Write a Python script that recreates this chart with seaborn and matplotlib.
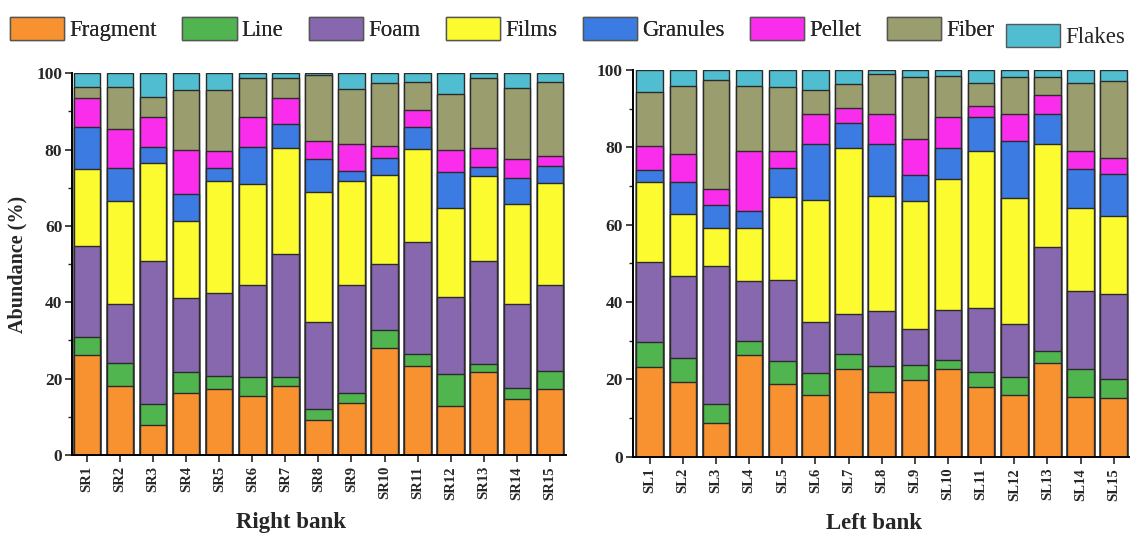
import matplotlib
matplotlib.use("Agg")
import matplotlib.pyplot as plt
from matplotlib.patches import Patch
from matplotlib.ticker import MultipleLocator
import numpy as np
import pandas as pd
import seaborn as sns

# Microplastic shape composition (%) at each sampling site
types = ["Fragment", "Line", "Foam", "Films", "Granules", "Pellet", "Fiber", "Flakes"]
colors = ["#F8912F", "#51B54F", "#8767AD", "#FBFB2F", "#3C7BE1", "#F92DEB", "#9A9D6D", "#50BED0"]

right_sites = [f"SR{i}" for i in range(1, 16)]
left_sites = [f"SL{i}" for i in range(1, 16)]

# Right bank (SR1 ... SR15)
sr_fragment = [26.2, 18.1, 7.8, 16.2, 17.4, 15.4, 18.1, 9.2, 13.5, 27.9, 23.3, 12.9, 21.6, 14.6, 17.2]
sr_line     = [4.8, 5.9, 5.6, 5.5, 3.3, 4.9, 2.4, 2.8, 2.7, 4.9, 3.2, 8.3, 2.1, 2.9, 4.8]
sr_foam     = [23.6, 15.5, 37.4, 19.4, 21.7, 24.2, 32.2, 22.8, 28.3, 17.2, 29.2, 20.3, 27.0, 22.1, 22.5]
sr_films    = [20.3, 26.9, 25.6, 20.3, 29.3, 26.6, 27.6, 34.2, 27.3, 23.4, 24.4, 23.3, 22.4, 26.1, 26.7]
sr_granules = [11.0, 8.7, 4.2, 6.9, 3.4, 9.5, 6.3, 8.5, 2.6, 4.3, 5.7, 9.3, 2.4, 6.8, 4.5]
sr_pellet   = [7.7, 10.2, 7.9, 11.6, 4.6, 7.9, 6.8, 4.8, 7.0, 3.1, 4.6, 5.8, 5.0, 5.0, 2.6]
sr_fiber    = [2.9, 11.2, 5.2, 15.7, 15.9, 10.2, 5.3, 17.1, 14.4, 16.6, 7.2, 14.7, 18.2, 18.7, 19.3]
sr_flakes   = [3.5, 3.5, 6.3, 4.4, 4.4, 1.3, 1.3, 0.6, 4.2, 2.6, 2.4, 5.4, 1.3, 3.8, 2.4]

# Left bank (SL1 ... SL15)
sl_fragment = [23.3, 19.4, 8.6, 26.2, 18.7, 15.9, 22.6, 16.6, 19.7, 22.7, 17.9, 15.9, 24.1, 15.5, 15.2]
sl_line     = [6.3, 6.0, 4.9, 3.7, 6.1, 5.8, 3.9, 6.9, 4.0, 2.3, 3.9, 4.8, 3.1, 7.3, 5.0]
sl_foam     = [20.8, 21.4, 35.9, 15.4, 20.9, 13.0, 10.4, 14.2, 9.3, 12.8, 16.7, 13.7, 26.9, 20.1, 21.8]
sl_films    = [20.7, 16.0, 9.8, 13.9, 21.5, 31.6, 42.8, 29.6, 33.1, 34.0, 40.6, 32.6, 26.7, 21.5, 20.2]
sl_granules = [3.0, 8.3, 5.9, 4.3, 7.4, 14.5, 6.5, 13.5, 6.7, 7.9, 8.7, 14.6, 7.7, 10.0, 11.0]
sl_pellet   = [6.2, 7.2, 4.1, 15.6, 4.4, 7.7, 4.0, 7.7, 9.3, 8.2, 3.0, 7.1, 4.9, 4.7, 4.0]
sl_fiber    = [13.9, 17.5, 28.1, 16.7, 16.6, 6.3, 6.1, 10.4, 16.0, 10.5, 5.8, 9.5, 4.8, 17.5, 20.0]
sl_flakes   = [5.8, 4.2, 2.7, 4.2, 4.4, 5.2, 3.7, 1.1, 1.9, 1.6, 3.4, 1.8, 1.8, 3.4, 2.8]

right_bank = pd.DataFrame(
    {"Fragment": sr_fragment, "Line": sr_line, "Foam": sr_foam, "Films": sr_films,
     "Granules": sr_granules, "Pellet": sr_pellet, "Fiber": sr_fiber, "Flakes": sr_flakes},
    index=right_sites)
left_bank = pd.DataFrame(
    {"Fragment": sl_fragment, "Line": sl_line, "Foam": sl_foam, "Films": sl_films,
     "Granules": sl_granules, "Pellet": sl_pellet, "Fiber": sl_fiber, "Flakes": sl_flakes},
    index=left_sites)

sns.set_theme(style="ticks")
plt.rcParams["font.family"] = ["Liberation Serif", "DejaVu Serif"]
plt.rcParams["axes.linewidth"] = 1.4
plt.rcParams["xtick.major.width"] = 1.2
plt.rcParams["ytick.major.width"] = 1.2
plt.rcParams["ytick.minor.width"] = 1.0

fig = plt.figure(figsize=(11.32, 5.34), dpi=100)
ax_r = fig.add_axes([0.0636, 0.148, 0.4364, 0.715])
ax_l = fig.add_axes([0.559, 0.1448, 0.4383, 0.7242])


def stacked(ax, frame, xlabel, label_x):
    cum = frame.cumsum(axis=1)
    # draw cumulative bars from the top layer down so each lower layer sits in front
    for name, col in zip(types[::-1], colors[::-1]):
        sns.barplot(x=frame.index, y=cum[name].values, color=col, width=0.8,
                    edgecolor="#2b2b2b", linewidth=1.0, saturation=1,
                    errorbar=None, ax=ax)
    ax.set_ylim(0, 100)
    ax.yaxis.set_major_locator(MultipleLocator(20))
    ax.yaxis.set_minor_locator(MultipleLocator(10))
    ax.tick_params(axis="y", which="major", length=5, direction="out", labelsize=12.5, pad=2)
    ax.tick_params(axis="y", which="minor", length=3, direction="out")
    ax.tick_params(axis="x", length=5, direction="out", labelsize=10.5, pad=3)
    for lab in ax.get_xticklabels():
        lab.set_rotation(90)
        lab.set_fontweight("bold")
    for lab in ax.get_yticklabels():
        lab.set_fontweight("bold")
    sns.despine(ax=ax)
    for s in ("left", "bottom"):
        ax.spines[s].set_color("black")
    ax.set_xlabel(xlabel, fontsize=16.5, fontweight="bold", labelpad=9)
    ax.xaxis.label.set_x(label_x)
    ax.set_ylabel("")


stacked(ax_r, right_bank, "Right bank", 0.443)
stacked(ax_l, left_bank, "Left bank", 0.486)
ax_r.set_xlim(-0.455, 14.49)
ax_l.set_xlim(-0.51, 14.46)
ax_r.set_ylabel("Abundance (%)", fontsize=14.5, fontweight="bold", labelpad=6)

handles = [Patch(facecolor=c, edgecolor="#555555", linewidth=1.0) for c in colors]
legend_style = dict(frameon=False, fontsize=16.5, handlelength=2.36, handleheight=1.18,
                    handletextpad=0.22, borderaxespad=0, borderpad=0)
main_leg = fig.legend(handles[:7], types[:7], loc="upper left", bbox_to_anchor=(0.009, 0.968),
                      ncol=7, columnspacing=1.12, **legend_style)
fig.add_artist(main_leg)
fig.legend(handles[7:], types[7:], loc="upper left", bbox_to_anchor=(0.889, 0.955),
           ncol=1, **legend_style)

fig.savefig("out.png", dpi=100)
